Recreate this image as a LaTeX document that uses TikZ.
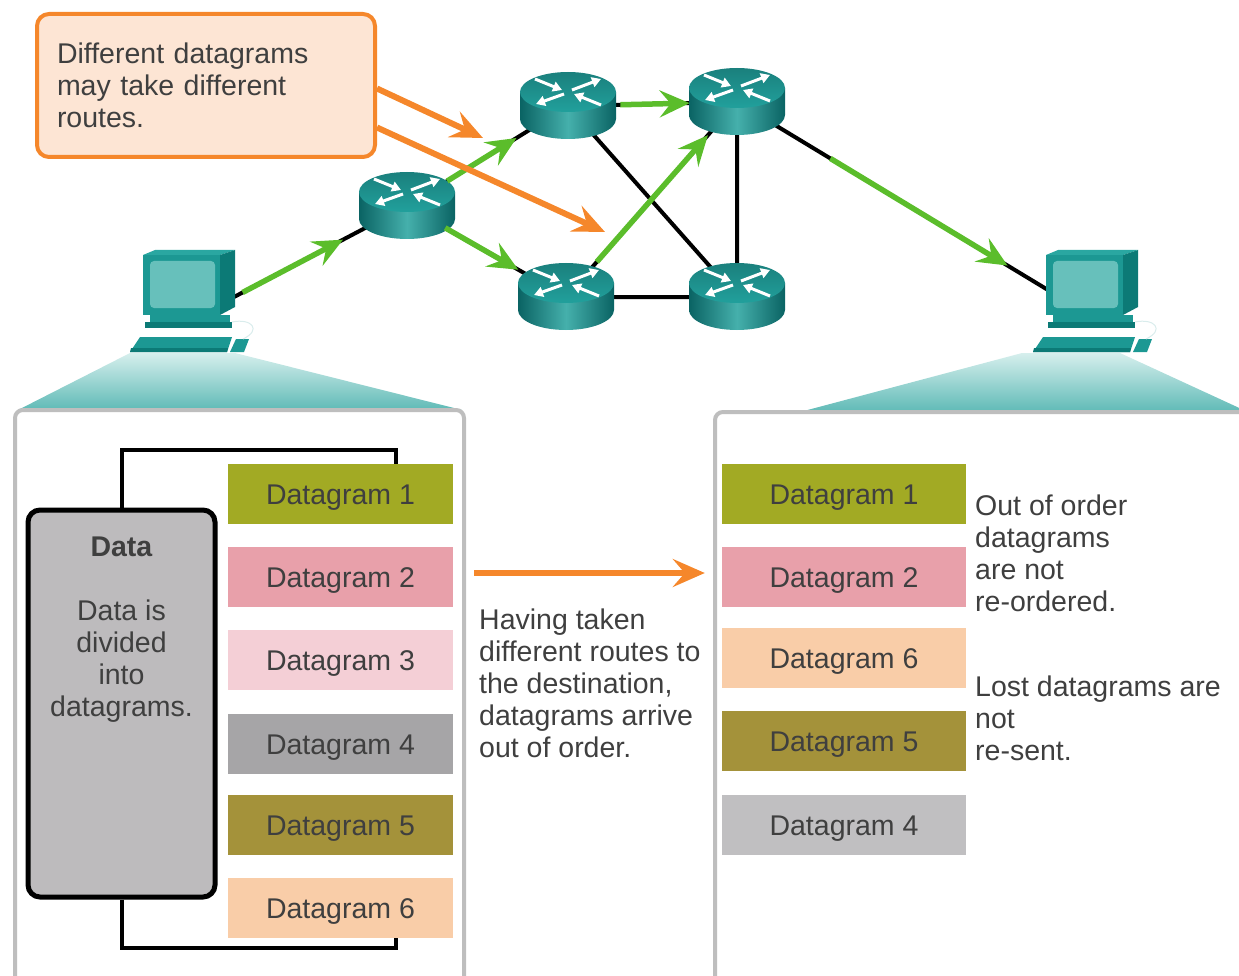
\documentclass[tikz,border=0pt]{standalone}
\usepackage{fontspec}
\setmainfont{Liberation Sans}
\usetikzlibrary{arrows.meta,calc,positioning}

\definecolor{txt}{HTML}{3F3F3F}
\definecolor{hintorange}{HTML}{F5872B}
\definecolor{notefill}{HTML}{FDE5D4}
\definecolor{flowgreen}{HTML}{5BBD2B}
\definecolor{routerdark}{HTML}{0A6363}
\definecolor{routerlight}{HTML}{45B0AC}
\definecolor{routertop}{HTML}{21A09C}
\definecolor{pcfront}{HTML}{1C9893}
\definecolor{pcscreen}{HTML}{67C0BB}
\definecolor{pcside}{HTML}{0C7A76}
\definecolor{pctop}{HTML}{2AA7A1}
\definecolor{zoomtop}{HTML}{D6EFED}
\definecolor{zoombot}{HTML}{5FBAB6}
\definecolor{panelline}{HTML}{BEBEBE}
\definecolor{datafill}{HTML}{BDBBBD}
\definecolor{dg1}{HTML}{A2AA24}
\definecolor{dg2}{HTML}{E8A0AA}
\definecolor{dg3}{HTML}{F4CFD6}
\definecolor{dg4}{HTML}{A6A5A7}
\definecolor{dg4light}{HTML}{C0BFC1}
\definecolor{dg5}{HTML}{A4923A}
\definecolor{dg6}{HTML}{F9CDA8}

\tikzset{
  link/.style={draw=black, line width=4pt},
  flow/.style={draw=flowgreen, line width=5.5pt, -{Stealth[length=30pt, width=27pt, inset=11pt]}},
  hint/.style={draw=hintorange, line width=6pt, -{Stealth[length=32pt, width=28pt, inset=12pt]}},
  rarrow/.style={draw=white, line width=3pt, -{Triangle[length=9pt, width=10pt]}},
  pccable/.style={draw=white!85!teal, line width=1pt},
  callout/.style={draw=hintorange, fill=notefill, line width=4pt, rounded corners=12pt,
    minimum height=143pt, text width=298pt, inner xsep=20pt, align=left},
  panel/.style={draw=panelline, fill=white, line width=4pt, rounded corners=8pt},
  databox/.style={draw=black, fill=datafill, line width=5pt, rounded corners=12pt,
    minimum width=187pt, minimum height=387pt},
  dgram/.style={minimum width=225pt, minimum height=60pt, inner sep=0pt,
    text height=21pt, text depth=0pt},
  bracket/.style={draw=black, line width=4pt},
  router/.pic={
    \shade[left color=routerdark, right color=routerdark, middle color=routerlight]
      (-48,0) -- (-48,27) arc[start angle=180, end angle=360, x radius=48pt, y radius=20pt]
      -- (48,0) -- cycle;
    \shade[top color=routertop!80!black, bottom color=routertop]
      (0,0) ellipse[x radius=48pt, y radius=20pt];
    \draw[rarrow] (-33,-13) -- (-6,-2);
    \draw[rarrow] (4,-2) -- (33,-13);
    \draw[rarrow] (-4,2) -- (-32,12);
    \draw[rarrow] (33,13) -- (6,2);
  },
  pc/.pic={
    % monitor
    \fill[pctop] (-47,-45) -- (-35,-50) -- (45,-50) -- (30,-45) -- cycle;
    \fill[pcside] (30,-45) -- (45,-50) -- (45,7) -- (30,15) -- cycle;
    \fill[pcfront] (-47,-45) rectangle (30,15);
    \fill[pcscreen, rounded corners=4pt] (-40,-39) rectangle (25,8);
    % stand
    \fill[pcfront] (-40,15) rectangle (40,22);
    \fill[pcside] (-45,22) rectangle (42,28);
    % keyboard and mouse
    \fill[pcfront] (-50,37) -- (42,37) -- (37,52) -- (-60,52) -- cycle;
    \fill[pcside] (-59,48) -- (38,48) -- (37,52) -- (-60,52) -- cycle;
    \fill[pcfront] (46,39) -- (59,39) -- (54,52) -- (40,52) -- cycle;
    \draw[pccable] (42,22) .. controls (62,18) and (72,30) .. (53,39);
  },
}

\begin{document}
\begin{tikzpicture}[x=1pt, y=-1pt,
    every node/.style={font=\fontsize{28.5}{32}\selectfont, text=txt}]
  \useasboundingbox (0,0) rectangle (1239,976);
  \clip (0,0) rectangle (1239,976);

  % zoom wedges under the hosts
  \shade[top color=zoomtop, bottom color=zoombot] (130,353) -- (235,353) -- (462,410) -- (18,410) -- cycle;
  \shade[top color=zoomtop, bottom color=zoombot] (1022,353) -- (1120,353) -- (1248,412) -- (800,412) -- cycle;
  \draw[panel] (15,410) rectangle (464,1010);
  \draw[panel] (715,412) rectangle (1265,1010);

  % network
  \coordinate (r1) at (407,206);
  \coordinate (r2) at (568,106);
  \coordinate (r3) at (737,102);
  \coordinate (r4) at (566,297);
  \coordinate (r5) at (737,297);
  \coordinate (pcl) at (234,297);
  \coordinate (pcr) at (1048,290);
  \draw[link] (pcl) -- (r1) (r1) -- (r2) (r1) -- (r4) (r2) -- (r3) (r2) -- (r5)
    (r4) -- (r3) (r3) -- (r5) (r4) -- (r5) (r3) -- (pcr);
  \pic at (190,300) {pc};
  \pic at (1093,300) {pc};
  \foreach \r in {r1,r2,r3,r4,r5}
    \pic at ($(\r)+(0,-14)$) {router};

  \draw[flow] ($(pcl)!0.05!(r1)$) -- ($(pcl)!0.63!(r1)$);
  \draw[flow] ($(r1)!0.25!(r2)$) -- ($(r1)!0.68!(r2)$);
  \draw[flow] ($(r1)!0.24!(r4)$) -- ($(r1)!0.70!(r4)$);
  \draw[flow] ($(r2)!0.31!(r3)$) -- ($(r2)!0.72!(r3)$);
  \draw[flow] ($(r4)!0.18!(r3)$) -- ($(r4)!0.83!(r3)$);
  \draw[flow] ($(r3)!0.30!(pcr)$) -- ($(r3)!0.87!(pcr)$);

  % callout
  \node[callout, anchor=north west] (note) at (35,12) {Different datagrams\\may take different\\routes.};
  \coordinate (tipa) at (483,138);
  \coordinate (tipb) at (605,232);
  \draw[hint] ($(note.east)+(0,3)$) -- (tipa);
  \draw[hint] ($(note.east)+(0,42)$) -- (tipb);

  % sender side
  \node[databox] (data) at (121.5,703.5) {};
  \node[align=center, inner sep=0pt] at (121.5,630) {\textbf{Data}\\[32pt]Data is\\divided\\into\\datagrams.};
  \foreach \i/\y/\c in {1/494/dg1, 2/577/dg2, 3/660/dg3, 4/744/dg4, 5/825/dg5, 6/908/dg6}
    \node[dgram, fill=\c] (d\i) at (340.5,\y) {Datagram \i};
  \draw[bracket] (data.north) -- ++(0,-58) -| ($(d1.north)+(55,0)$);
  \draw[bracket] (data.south) -- ++(0,48) -| ($(d6.south)+(55,0)$);

  % receiver side
  \foreach \i/\y/\c in {1/494/dg1, 2/577/dg2, 6/658/dg6, 5/741/dg5, 4/825/dg4light}
    \node[dgram, minimum width=244pt, fill=\c] (e\i) at (844,\y) {Datagram \i};
  \draw[hint] ($(d2.east)+(21,-4)$) -- ($(e2.west)+(-17,-4)$);

  \node[anchor=west, align=left, inner sep=0pt] at (479,683)
    {Having taken\\different routes to\\the destination,\\datagrams arrive\\out of order.};
  \node[anchor=west, align=left, inner sep=0pt] at (975,553)
    {Out of order\\datagrams\\are not\\re-ordered.};
  \node[anchor=west, align=left, inner sep=0pt] at (975,718)
    {Lost datagrams are\\not\\re-sent.};
\end{tikzpicture}
\end{document}
